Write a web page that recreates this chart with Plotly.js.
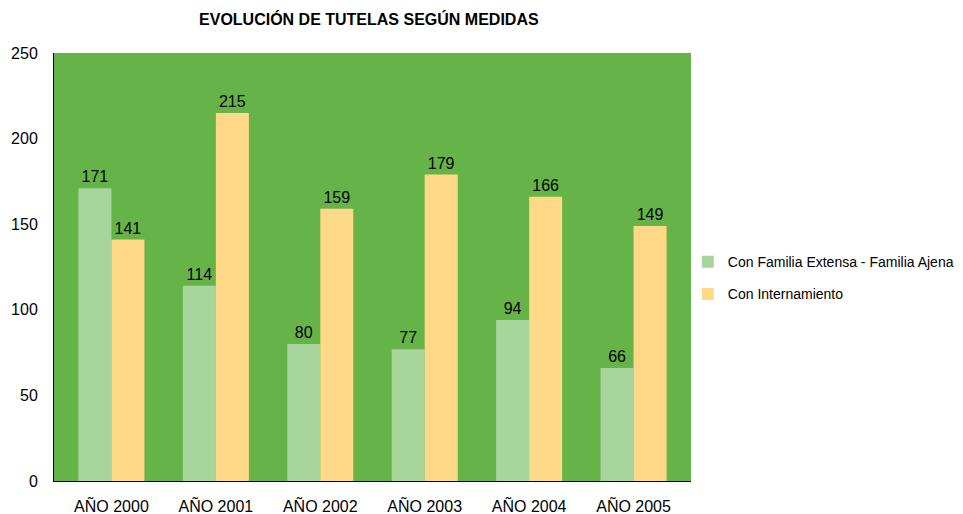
<!DOCTYPE html>
<html>
<head>
<meta charset="utf-8">
<script src="https://cdn.plot.ly/plotly-3.0.1.min.js"></script>
<style>html,body{margin:0;padding:0;background:#fff;}#chart{width:963px;height:514px;}</style>
</head>
<body>
<div id="chart"></div>
<script>
const categories = ["AÑO 2000", "AÑO 2001", "AÑO 2002", "AÑO 2003", "AÑO 2004", "AÑO 2005"];
const familiaValues = [171, 114, 80, 77, 94, 66];
const internamientoValues = [141, 215, 159, 179, 166, 149];
const seriesNames = ["Con Familia Extensa - Familia Ajena", "Con Internamiento"];
const yTicks = [0, 50, 100, 150, 200, 250];

const font = "Liberation Sans, Arial, sans-serif";
const traces = [
  {type: "bar", x: categories, y: familiaValues, name: seriesNames[0], legendgroup: "a",
   marker: {color: "#A8D59C"}, text: familiaValues.map(String), textposition: "outside",
   textfont: {family: font, size: 16, color: "#000"}, cliponaxis: false, hoverinfo: "none"},
  {type: "bar", x: categories, y: internamientoValues, name: seriesNames[1], legendgroup: "b",
   marker: {color: "#FFD888"}, text: internamientoValues.map(String), textposition: "outside",
   textfont: {family: font, size: 16, color: "#000"}, cliponaxis: false, hoverinfo: "none"}
];
const layout = {
  width: 963, height: 514,
  margin: {l: 54, r: 272, t: 53, b: 33, autoexpand: false},
  paper_bgcolor: "#fff", plot_bgcolor: "#66B447",
  font: {family: font, size: 16, color: "#000"},
  title: {text: "<b>EVOLUCIÓN DE TUTELAS SEGÚN MEDIDAS</b>", font: {family: font, size: 16, color: "#000"},
          x: 0.383, xanchor: "center", y: 0.963, yanchor: "middle"},
  barmode: "group", bargap: 0.368, bargroupgap: 0,
  showlegend: true,
  legend: {x: 0.995, xanchor: "left", y: 0.474, yanchor: "middle", font: {family: font, size: 14, color: "#000"},
           traceorder: "grouped", tracegroupgap: 11, bgcolor: "rgba(0,0,0,0)"},
  xaxis: {range: [-0.55, 5.55], showline: true, linecolor: "#000", linewidth: 1, ticks: "", showgrid: false,
          tickfont: {family: font, size: 16, color: "#000"}, ticklabelstandoff: 11, fixedrange: true},
  yaxis: {range: [0, 250], tickvals: yTicks, ticktext: yTicks.map(String), showline: true, linecolor: "#000",
          linewidth: 1, showgrid: false, zeroline: false, ticks: "",
          tickfont: {family: font, size: 16, color: "#000"}, ticklabelstandoff: 12, fixedrange: true}
};
Plotly.newPlot("chart", traces, layout, {displayModeBar: false, staticPlot: true});
</script>
</body>
</html>
